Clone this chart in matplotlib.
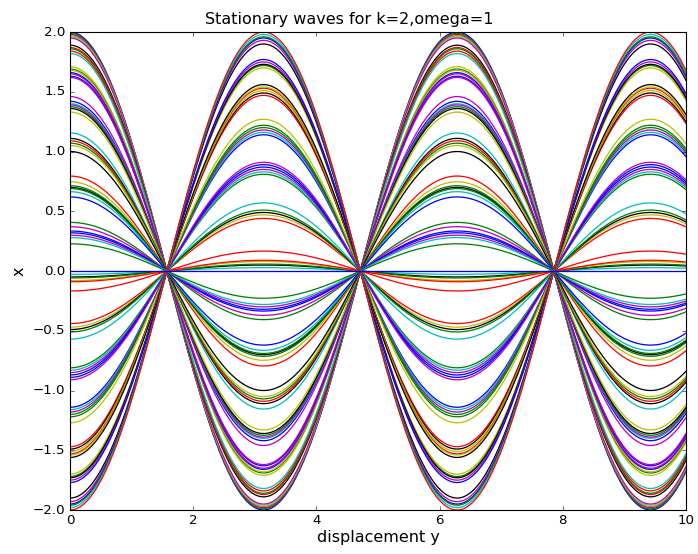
import numpy as np
import matplotlib
matplotlib.use("Agg")
from matplotlib import pyplot as plt

# amplitude of each standing wave at x=0, with its colour
amplitudes = [
    2.00, 1.99, 1.98, 1.97, 1.96, 1.95,
    1.89, 1.87, 1.86, 1.84, 1.82,
    1.71, 1.69, 1.68, 1.66, 1.65, 1.63, 1.62,
    1.46, 1.42, 1.40, 1.39, 1.375, 1.36, 1.33,
    1.155, 1.11, 1.09, 1.07, 1.05, 1.00,
    0.795, 0.747, 0.714, 0.70, 0.69, 0.664, 0.62,
    0.407, 0.371, 0.335, 0.32, 0.30, 0.28, 0.228,
    -0.028, -0.05, -0.058, -0.08, -0.09, -0.167,
    -0.44, -0.47, -0.49, -0.51, -0.57,
    -0.81, -0.83, -0.85, -0.87, -0.89, -0.91,
    -1.14, -1.16, -1.18, -1.20, -1.22, -1.27,
    -1.47, -1.49, -1.51, -1.53, -1.54, -1.56,
    -1.70, -1.72, -1.73, -1.75, -1.77,
    -1.90, -1.93, -1.95, -1.96, -1.98, -2.00,
    0.0,
]
colors = [
    "b", "g", "r", "c", "y", "m",
    "k", "r", "g", "r", "c",
    "y", "g", "y", "b", "m", "b", "m",
    "m", "b", "c", "m", "g", "k", "y",
    "c", "k", "r", "g", "y", "k",
    "r", "y", "g", "k", "g", "c", "b",
    "g", "m", "b", "b", "m", "c", "g",
    "c", "k", "g", "y", "r", "r",
    "r", "y", "k", "g", "c",
    "g", "c", "m", "b", "b", "m",
    "b", "c", "m", "g", "g", "y",
    "r", "k", "y", "r", "y", "k",
    "y", "g", "k", "m", "b",
    "k", "m", "b", "g", "c", "r",
    "b",
]

plt.style.use("classic")

fig = plt.figure(figsize=(698 / 80, 554 / 80), dpi=80)
ax = fig.add_axes([0.1003, 0.0794, 0.8825, 0.8628])

x = np.linspace(0, 10, 300)
for a, c in zip(amplitudes, colors):
    ax.plot(x, a * np.cos(x), color=c, linewidth=1.15)

ax.set_xlim(0, 10)
ax.set_ylim(-2, 2)
fig.suptitle("Stationary waves for k=2,omega=1", fontsize=14.4, y=0.978)
ax.set_xlabel("displacement y", fontsize=14.4, labelpad=2)
ax.set_ylabel("x", fontsize=14.4, labelpad=6)

fig.savefig("out.png", dpi=80)
